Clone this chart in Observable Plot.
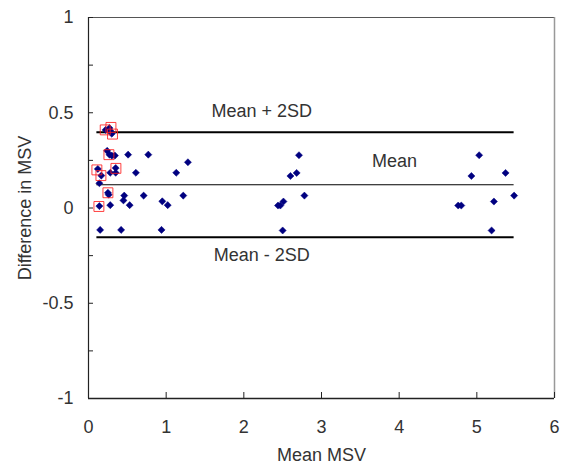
<!DOCTYPE html>
<html>
<head>
<meta charset="utf-8">
<script src="https://cdn.jsdelivr.net/npm/d3@7"></script>
<script src="https://cdn.jsdelivr.net/npm/@observablehq/plot@0.6"></script>
<style>
  html, body { margin: 0; padding: 0; background: #fff; }
  #chart { width: 565px; height: 466px; }
</style>
</head>
<body>
<div id="chart"></div>
<script>
// Mean MSV (x) and difference in MSV (y)
const meanMSV = [
  0.22, 0.27, 0.28, 0.30,
  0.24, 0.27, 0.30, 0.34, 0.51, 0.77,
  1.28,
  0.12, 0.165, 0.14, 0.28, 0.35, 0.35, 0.61, 1.13,
  0.25, 0.26,
  0.14, 0.28,
  0.46, 0.45, 0.53,
  0.71, 0.95, 1.02, 1.22,
  0.15, 0.42, 0.94,
  2.71, 2.60, 2.68, 2.78, 2.44, 2.47, 2.51, 2.50,
  5.03, 4.93, 5.37, 5.48, 4.76, 4.80, 5.22, 5.19
];
const diffMSV = [
  0.41, 0.42, 0.405, 0.39,
  0.30, 0.28, 0.275, 0.275, 0.28, 0.28,
  0.24,
  0.205, 0.17, 0.13, 0.185, 0.21, 0.185, 0.185, 0.185,
  0.08, 0.07,
  0.01, 0.015,
  0.065, 0.04, 0.015,
  0.065, 0.035, 0.015, 0.065,
  -0.115, -0.115, -0.115,
  0.277, 0.168, 0.184, 0.065, 0.013, 0.013, 0.034, -0.118,
  0.277, 0.168, 0.184, 0.065, 0.013, 0.013, 0.034, -0.118
];
// Highlighted (boxed) points
const boxX = [0.215, 0.289, 0.309, 0.263, 0.108, 0.16, 0.353, 0.25, 0.134];
const boxY = [0.41, 0.423, 0.388, 0.28, 0.2, 0.17, 0.208, 0.08, 0.008];

// Limits of agreement
const limitNames = ["Mean + 2SD", "Mean", "Mean - 2SD"];
const limitValues = [0.397, 0.122, -0.153];
const limitStart = 0.108;
const limitEnd = 5.48;
const labelX = [2.23, 3.94, 2.23];
const labelY = [0.51, 0.243, -0.249];

// Axes
const xTicks = [0, 1, 2, 3, 4, 5, 6];
const yTicks = [-1, -0.5, 0, 0.5, 1];
const yMinorTicks = [-1, -0.75, -0.5, -0.25, 0, 0.25, 0.5, 0.75, 1];
const xLabel = "Mean MSV";
const yLabel = "Difference in MSV";

const W = 565, H = 466;
const mL = 88, mR = 11, mT = 17, mB = 68;
const plotW = W - mL - mR, plotH = H - mT - mB;

const points = meanMSV.map((x, i) => ({x, y: diffMSV[i]}));
const boxes = boxX.map((x, i) => ({x, y: boxY[i]}));
const limits = limitNames.map((name, i) => ({name, value: limitValues[i], lx: labelX[i], ly: labelY[i]}));

const chart = Plot.plot({
  width: W,
  height: H,
  marginLeft: mL,
  marginRight: mR,
  marginTop: mT,
  marginBottom: mB,
  style: {fontFamily: "'Liberation Sans', Arial, sans-serif", fontSize: "18px", color: "#333", background: "#fff"},
  x: {domain: [0, 6]},
  y: {domain: [-1, 1]},
  marks: [
    // frame: top and right
    Plot.ruleY([1], {stroke: "#555", strokeWidth: 1}),
    Plot.ruleX([6], {stroke: "#999", strokeWidth: 1.5}),
    // inward tick marks
    Plot.tickX(xTicks, {x: d => d, insetTop: plotH - 6, stroke: "#222"}),
    Plot.tickY(yMinorTicks, {y: d => d, insetRight: plotW - 5, stroke: "#222"}),
    // axes labels
    Plot.axisX(xTicks, {tickSize: 0, tickPadding: 22, label: null, tickFormat: d => String(d), fill: "#333"}),
    Plot.axisY(yTicks, {tickSize: 0, tickPadding: 15, label: null, tickFormat: d => String(d), fill: "#333"}),
    // axis lines
    Plot.ruleX([0], {stroke: "#222", strokeWidth: 1.2}),
    Plot.ruleY([-1], {stroke: "#222", strokeWidth: 1.5}),
    // limit lines
    Plot.ruleY(limits, {y: "value", x1: limitStart, x2: limitEnd, stroke: "#000", strokeWidth: d => d.name === "Mean" ? 1 : 2}),
    Plot.text(limits, {x: "lx", y: "ly", text: "name", fill: "#333"}),
    // points
    Plot.dot(points, {x: "x", y: "y", symbol: "diamond2", r: 3.2, fill: "#000080", stroke: "#000080", strokeWidth: 0.5}),
    Plot.dot(boxes, {x: "x", y: "y", symbol: "square", r: 5.6, fill: "none", stroke: "#ff2020", strokeOpacity: 0.85, strokeWidth: 1}),
    // axis titles
    Plot.text([xLabel], {frameAnchor: "bottom", dy: 57, textAnchor: "middle", lineAnchor: "middle", text: d => d, fill: "#333"}),
    Plot.text([yLabel], {frameAnchor: "left", dx: -63, rotate: -90, textAnchor: "middle", lineAnchor: "middle", text: d => d, fill: "#333"})
  ]
});
document.getElementById("chart").appendChild(chart);
</script>
</body>
</html>
